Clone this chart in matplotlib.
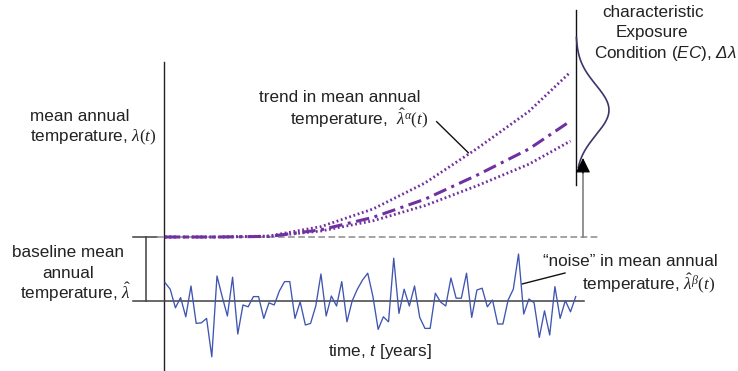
import numpy as np
import matplotlib
matplotlib.use('Agg')
import matplotlib.pyplot as plt

plt.rcParams['font.family'] = ['Liberation Sans', 'DejaVu Sans']
plt.rcParams['mathtext.fontset'] = 'custom'
plt.rcParams['mathtext.rm'] = 'Liberation Serif'
plt.rcParams['mathtext.it'] = 'Liberation Serif:italic'
plt.rcParams['mathtext.sf'] = 'Liberation Sans:italic'

# ---------------- data ----------------
years = np.arange(80)
noise = [0.92, 0.59, -0.34, 0.17, -0.79, 0.75, -1.12, -1.09, -0.87, -2.79,
         1.25, 0.22, -0.75, 1.19, -1.65, -0.20, -0.29, 0.22, 0.22, -0.87,
         -0.09, -0.20, 0.50, 0.97, 0.97, -0.87, -0.04, -1.20, -1.12, -0.25,
         1.35, -0.75, 0.25, -0.25, 0.97, -1.04, 0.00, 0.59, 1.05, 1.39,
         0.22, -1.42, -0.79, -1.04, 2.14, -0.62, 0.59, -0.25, 0.75, -0.82,
         -1.37, -1.37, 0.39, -0.05, -0.25, 1.15, 0.14, 0.14, 1.39, -0.82,
         0.55, 0.64, -0.29, 0.05, -1.15, -1.15, 0.05, 0.59, 2.35, -0.65,
         0.10, -0.09, -1.82, -0.49, -1.70, 0.72, -0.87, 0.02, -0.54, 0.22]

trend_years = [0, 10, 20, 30, 40, 50, 60, 70, 78]
trend_upper = [0, 0, 0.05, 0.52, 1.40, 2.70, 4.42, 6.28, 8.25]
trend_mean = [0, 0, 0.03, 0.36, 0.98, 1.89, 3.09, 4.40, 5.80]
trend_lower = [0, 0, 0.03, 0.30, 0.81, 1.57, 2.56, 3.64, 4.80]

ec_year = 79.05          # position of the EC axis (years)
ec_mean = 6.35           # centre of the EC distribution
ec_sd = 1.25             # spread of the EC distribution
ec_width = 6.35          # drawn width of the distribution (years)

# ---------------- figure ----------------
W, H = 738, 371
fig = plt.figure(figsize=(W / 100, H / 100), dpi=100)

bg = fig.add_axes([0, 0, 1, 1])
bg.set_xlim(0, W)
bg.set_ylim(H, 0)
bg.axis('off')

x0, x1 = 165, 575.7
ax_noise = fig.add_axes([x0 / W, 0, (x1 - x0) / W, 140 / H])
ax_noise.set_xlim(0, 79)
ax_noise.set_ylim(-3.5, 3.5)
ax_noise.axis('off')

ax_tr = fig.add_axes([x0 / W, (H - 247) / H, (x1 - x0) / W, 247 / H])
ax_tr.set_xlim(0, 79)
ax_tr.set_ylim(-0.5, 11.85)
ax_tr.axis('off')

txt = '#222222'
purple = '#7030A0'

# main time axis
bg.plot([164, 164], [62, 371], color='#222222', lw=1.0)
# baseline for noise
bg.plot([133, 584], [301, 301], color='#404040', lw=1.1)
# bracket
bg.plot([133, 157], [237, 237], color='#404040', lw=1.1)
bg.plot([146, 146], [237, 301], color='#404040', lw=1.1)
# dashed baseline mean
bg.plot([157, 599], [237, 237], color='#8a8a8a', lw=1.1, dashes=(4.4, 2.2))

# noise series
ax_noise.plot(years, noise, color='#3F55B0', lw=0.95, clip_on=False)

# trend lines
ax_tr.plot(trend_years, trend_upper, color=purple, lw=2.0, dashes=(0.65, 0.95), clip_on=False)
ax_tr.plot(trend_years, trend_lower, color=purple, lw=2.0, dashes=(0.65, 0.95), clip_on=False)
ax_tr.plot(trend_years, trend_mean, color=purple, lw=2.2, dashes=(4.4, 1.8, 1.0, 1.8), clip_on=False)

# EC axis and distribution
ax_tr.plot([ec_year, ec_year], [2.6, 11.35], color='#111111', lw=1.0, clip_on=False)
yy = np.linspace(ec_mean - 2.3 * ec_sd, ec_mean + 2.9 * ec_sd, 200)
xx = ec_year + ec_width * np.exp(-0.5 * ((yy - ec_mean) / ec_sd) ** 2)
ax_tr.plot(xx, yy, color='#3E3468', lw=1.2, clip_on=False)
# arrow: grey shaft, black head
ax_tr.plot([80.4, 80.4], [0.0, 3.5], color='#808080', lw=1.2, clip_on=False)
ax_tr.annotate('', xy=(80.4, 3.95), xytext=(80.4, 3.2),
               arrowprops=dict(arrowstyle='-|>,head_length=0.65,head_width=0.32',
                               color='black', lw=0.8, mutation_scale=14,
                               shrinkA=0, shrinkB=0),
               annotation_clip=False)

# leader lines
bg.plot([436.7, 468.3], [121.7, 152.7], color='#111111', lw=1.0)
bg.plot([522, 565], [284, 273], color='#111111', lw=1.0)

fs = 12.3
# labels
bg.text(30, 121, 'mean annual', fontsize=fs, color=txt, va='baseline')
bg.text(30, 141, r'temperature, $\lambda(t)$', fontsize=fs, color=txt, va='baseline')

bg.text(68.5, 257, 'baseline mean', fontsize=fs, color=txt, va='baseline', ha='center')
bg.text(68.5, 278, 'annual', fontsize=fs, color=txt, va='baseline', ha='center')
bg.text(20, 299, r'temperature, $\hat{\lambda}$', fontsize=fs, color=txt, va='baseline')

bg.text(259, 101.5, 'trend in mean annual', fontsize=fs, color=txt, va='baseline')
bg.text(290, 124, r'temperature,  $\hat{\lambda}^{\alpha}(t)$', fontsize=fs, color=txt, va='baseline')

bg.text(542.7, 266.5, '\u201cnoise\u201d in mean annual', fontsize=fs, color=txt, va='baseline')
bg.text(581.7, 289, r'temperature, $\hat{\lambda}^{\beta}(t)$', fontsize=fs, color=txt, va='baseline')

bg.text(328, 356, r'time, $\mathsf{t}$ [years]', fontsize=fs, color=txt, va='baseline')

bg.text(653, 17, 'characteristic', fontsize=fs, color=txt, va='baseline', ha='center')
bg.text(652, 37.5, 'Exposure', fontsize=fs, color=txt, va='baseline', ha='center')
bg.text(594, 58, r'Condition ($\mathsf{EC}$), $\mathsf{\Delta\lambda}$', fontsize=fs, color=txt, va='baseline')

fig.savefig('out.png', dpi=100)
